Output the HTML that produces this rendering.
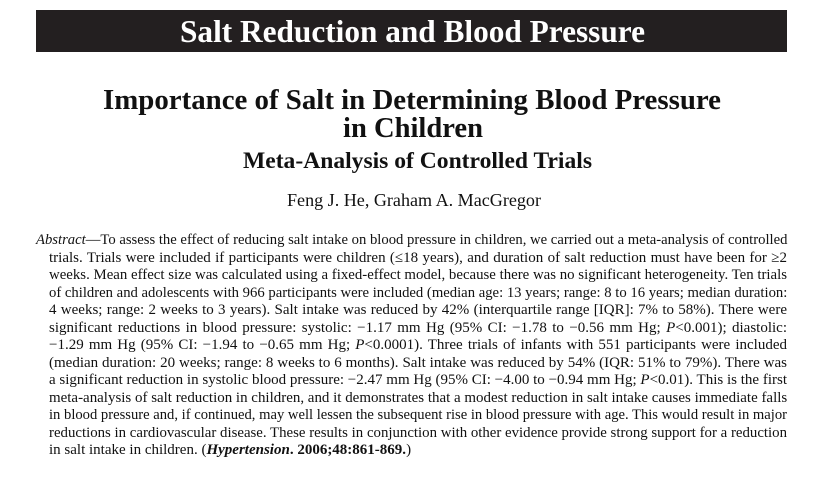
<!DOCTYPE html>
<html><head><meta charset="utf-8"><style>
body{margin:0;width:826px;height:477px;background:#fff;position:relative;overflow:hidden;font-family:"Liberation Serif",serif;color:#111}
.abs{position:absolute;white-space:nowrap;}
.fit{transform-origin:left center;display:inline-block}
#banner{position:absolute;left:36px;top:10px;width:751px;height:42px;background:#231f20}
.ln{position:absolute;left:49px;width:738px;font-size:15px;line-height:17px;text-align:justify;text-align-last:justify;white-space:nowrap}
</style></head><body>
<div id="banner"></div>
<div class="abs" style="left:180px;top:13px;height:36px;line-height:36px;color:#fff;font-weight:bold;font-size:32px"><span class="fit" data-w="465">Salt Reduction and Blood Pressure</span></div>
<div class="abs" style="left:103px;top:84px;line-height:32px;font-weight:bold;font-size:29px"><span class="fit" data-w="618">Importance of Salt in Determining Blood Pressure</span></div>
<div class="abs" style="left:343px;top:112px;line-height:32px;font-weight:bold;font-size:29px"><span class="fit" data-w="140">in Children</span></div>
<div class="abs" style="left:243px;top:147px;line-height:28px;font-weight:bold;font-size:23px"><span class="fit" data-w="349">Meta-Analysis of Controlled Trials</span></div>
<div class="abs" style="left:287px;top:188px;line-height:24px;font-size:18px"><span class="fit" data-w="254">Feng J. He, Graham A. MacGregor</span></div>
<div>
<div class="ln" style="left:36px;width:751px;top:232px"><i>Abstract</i>—To assess the effect of reducing salt intake on blood pressure in children, we carried out a meta-analysis of controlled</div>
<div class="ln" style="top:249.5px">trials. Trials were included if participants were children (≤18 years), and duration of salt reduction must have been for ≥2</div>
<div class="ln" style="top:267px">weeks. Mean effect size was calculated using a fixed-effect model, because there was no significant heterogeneity. Ten trials</div>
<div class="ln" style="top:284.5px">of children and adolescents with 966 participants were included (median age: 13 years; range: 8 to 16 years; median duration:</div>
<div class="ln" style="top:302px">4 weeks; range: 2 weeks to 3 years). Salt intake was reduced by 42% (interquartile range [IQR]: 7% to 58%). There were</div>
<div class="ln" style="top:319.5px">significant reductions in blood pressure: systolic: −1.17 mm Hg (95% CI: −1.78 to −0.56 mm Hg; <i>P</i>&lt;0.001); diastolic:</div>
<div class="ln" style="top:337px">−1.29 mm Hg (95% CI: −1.94 to −0.65 mm Hg; <i>P</i>&lt;0.0001). Three trials of infants with 551 participants were included</div>
<div class="ln" style="top:354.5px">(median duration: 20 weeks; range: 8 weeks to 6 months). Salt intake was reduced by 54% (IQR: 51% to 79%). There was</div>
<div class="ln" style="top:372px">a significant reduction in systolic blood pressure: −2.47 mm Hg (95% CI: −4.00 to −0.94 mm Hg; <i>P</i>&lt;0.01). This is the first</div>
<div class="ln" style="top:389.5px">meta-analysis of salt reduction in children, and it demonstrates that a modest reduction in salt intake causes immediate falls</div>
<div class="ln" style="top:407px">in blood pressure and, if continued, may well lessen the subsequent rise in blood pressure with age. This would result in major</div>
<div class="ln" style="top:424.5px">reductions in cardiovascular disease. These results in conjunction with other evidence provide strong support for a reduction</div>
<div class="ln" style="top:442px;text-align-last:left">in salt intake in children. (<b><i>Hypertension</i>. 2006;48:861-869.</b>)</div>
</div>
<script>
document.querySelectorAll('.fit').forEach(function(s){
  var w=s.getBoundingClientRect().width, t=+s.getAttribute('data-w');
  if(w>0) s.style.transform='scaleX('+(t/w)+')';
});
document.querySelectorAll('.ln').forEach(function(l){
  
  
  var sw=l.scrollWidth, cw=l.clientWidth;
  if(sw>cw){l.style.transformOrigin='left top';l.style.transform='scaleX('+(cw/sw)+')';l.style.width=sw+'px';}
});
</script>
</body></html>
